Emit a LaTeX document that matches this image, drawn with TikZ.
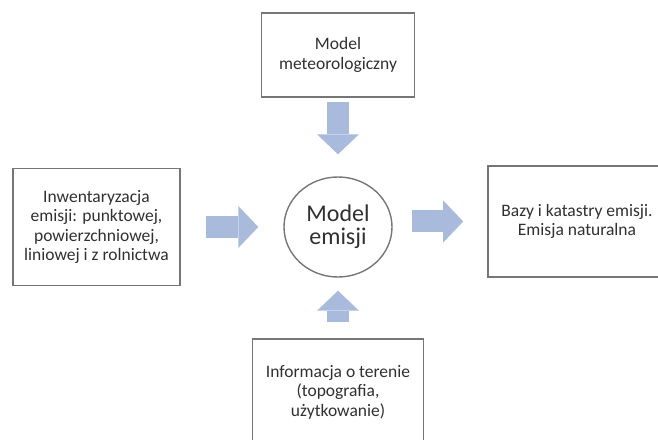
\documentclass[tikz,border=0pt]{standalone}
\usepackage{fontspec}
\setmainfont{Carlito}
\usetikzlibrary{arrows.meta,shapes.geometric}

\definecolor{boxline}{RGB}{118,118,118}
\definecolor{boxtext}{RGB}{48,48,48}
\definecolor{flowblue}{RGB}{168,187,220}

\tikzstyle{box}=[draw=boxline, line width=1.6pt, align=center, text=boxtext, font=\fontsize{17.5}{19.5}\selectfont]
\tikzstyle{core}=[draw=boxline, line width=1.4pt, ellipse, minimum width=108pt, minimum height=100pt, inner sep=0pt, align=center, text=boxtext, font=\fontsize{24}{23}\selectfont]
\tikzstyle{flow}=[draw=flowblue, line width=22pt, -{Triangle[length=20pt, width=42pt, line width=0pt]}]

\begin{document}
\begin{tikzpicture}[x=1pt, y=1pt]
      \useasboundingbox (0,0) rectangle (658,439);

      \node[core] (model) at (338, 212) {Model\\emisji};
      \node[box, minimum width=153pt, minimum height=84pt] (meteo) at (338, 384) {Model\\meteorologiczny};
      \node[box, minimum width=167pt, minimum height=117pt] (inw) at (96.5, 212) {Inwentaryzacja\\emisji: punktowej,\\powierzchniowej,\\liniowej i z rolnictwa};
      \node[box, minimum width=178pt, minimum height=111pt] (bazy) at (577, 217.5) {Bazy i katastry emisji.\\Emisja naturalna};
      \node[box, minimum width=171pt, minimum height=106pt] (teren) at (338, 47) {Informacja o terenie\\(topografia,\\użytkowanie)};

      \draw[flow, shorten <=4pt, shorten >=22pt] (meteo.south) to (model.north);
      \draw[flow, shorten <=16pt, shorten >=13pt] (teren.north) to (model.south);
      \draw[flow, shorten <=25pt, shorten >=25pt] (inw.east) to (model.west);
      \draw[flow, shorten <=19pt, shorten >=24pt] (model.east |- bazy.west) to (bazy.west);
    \end{tikzpicture}
\end{document}
